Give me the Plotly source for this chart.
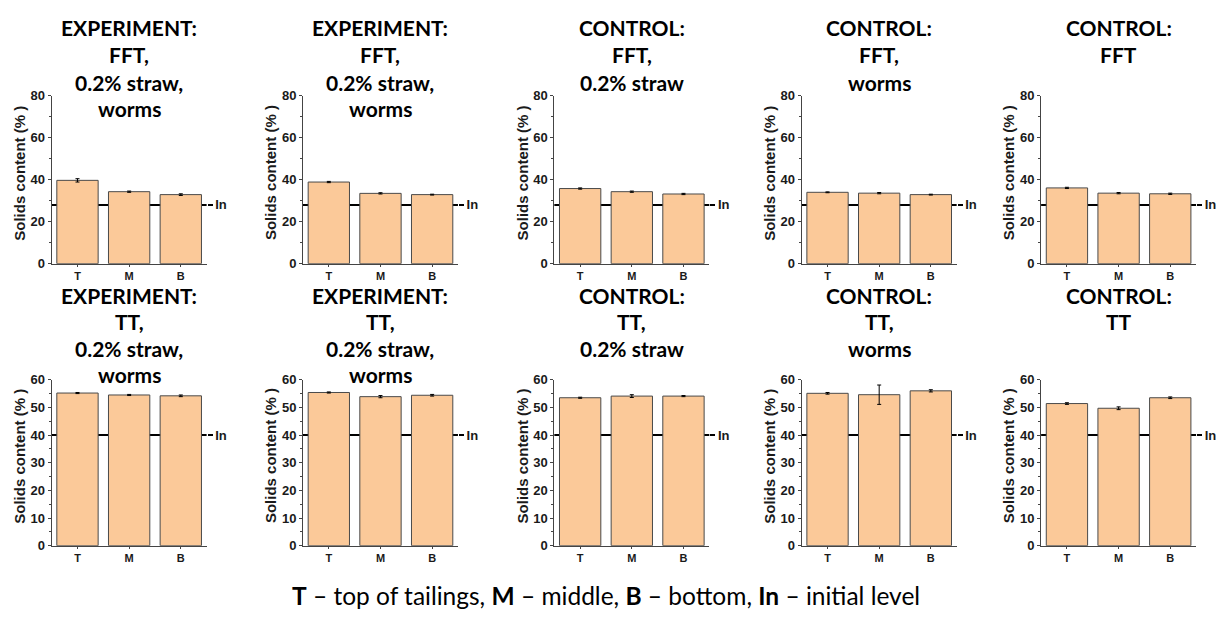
import plotly.graph_objects as go

# --- data -------------------------------------------------------------
positions = ["T", "M", "B"]

top_titles = [
    ["EXPERIMENT:", "FFT,", "0.2% straw,", "worms"],
    ["EXPERIMENT:", "FFT,", "0.2% straw,", "worms"],
    ["CONTROL:", "FFT,", "0.2% straw"],
    ["CONTROL:", "FFT,", "worms"],
    ["CONTROL:", "FFT"],
]
top_values = [
    [39.7, 34.3, 32.9],
    [38.9, 33.5, 32.9],
    [35.8, 34.3, 33.2],
    [34.0, 33.6, 32.9],
    [36.1, 33.6, 33.3],
]
top_errors = [
    [0.8, 0.3, 0.4],
    [0.3, 0.3, 0.2],
    [0.3, 0.3, 0.3],
    [0.2, 0.3, 0.2],
    [0.3, 0.3, 0.3],
]
top_initial = 28
top_range = [0, 80]
top_ticks = [0, 20, 40, 60, 80]

bottom_titles = [
    ["EXPERIMENT:", "TT,", "0.2% straw,", "worms"],
    ["EXPERIMENT:", "TT,", "0.2% straw,", "worms"],
    ["CONTROL:", "TT,", "0.2% straw"],
    ["CONTROL:", "TT,", "worms"],
    ["CONTROL:", "TT"],
]
bottom_values = [
    [55.2, 54.5, 54.2],
    [55.4, 53.9, 54.4],
    [53.5, 54.1, 54.1],
    [55.1, 54.6, 56.0],
    [51.4, 49.7, 53.5],
]
bottom_errors = [
    [0.2, 0.2, 0.3],
    [0.2, 0.4, 0.3],
    [0.2, 0.5, 0.2],
    [0.3, 3.5, 0.4],
    [0.3, 0.5, 0.3],
]
bottom_initial = 40
bottom_range = [0, 60]
bottom_ticks = [0, 10, 20, 30, 40, 50, 60]

y_title = "Solids content (% )"
caption = ("<b>T</b> \u2013 top of tailings, <b>M</b> \u2013 middle, "
           "<b>B</b> \u2013 bottom, <b>In</b> \u2013 initial level")

# --- layout geometry (pixels) ----------------------------------------
W, H = 1216, 621
panel_left = [52, 305, 558, 807, 1048]
panel_width = 156
rows = [
    dict(top=91, bottom=263, title_lines_y=[21, 49, 77, 104],
         values=top_values, errors=top_errors, titles=top_titles,
         initial=top_initial, rng=top_range, ticks=top_ticks, minor=10),
    dict(top=382, bottom=552, title_lines_y=[296, 322, 350, 377],
         values=bottom_values, errors=bottom_errors, titles=bottom_titles,
         initial=bottom_initial, rng=bottom_range, ticks=bottom_ticks, minor=5),
]

BAR_FILL = "#FBC999"
BAR_EDGE = "#4a4a4a"
AXIS_COLOR = "#444444"
TEXT_COLOR = "#1a1a1a"
ARIAL_BOLD = "Liberation Sans"
TITLE_FONT = "Lato"


def suffix(k):
    return "" if k == 1 else str(k)


fig = go.Figure()
layout = dict(
    width=W, height=H,
    margin=dict(l=0, r=0, t=0, b=0),
    paper_bgcolor="white",
    plot_bgcolor="rgba(0,0,0,0)",
    showlegend=False,
    bargap=0.2,
)
annotations = []
shapes = []

n = 0
for row in rows:
    y0 = 1 - row["bottom"] / H
    y1 = 1 - row["top"] / H
    for i in range(5):
        n += 1
        xa = "x" + suffix(n)
        ya = "y" + suffix(n)
        yr = "y" + suffix(n + 10)
        x0 = panel_left[i] / W
        x1 = (panel_left[i] + panel_width) / W

        fig.add_trace(go.Bar(
            x=positions, y=row["values"][i], xaxis=xa, yaxis=ya,
            width=0.8,
            marker=dict(color=BAR_FILL, line=dict(color=BAR_EDGE, width=1)),
            error_y=dict(type="data", array=row["errors"][i], color="black",
                         thickness=1, width=2),
        ))
        # empty trace so the right-hand "In" axis is drawn
        fig.add_trace(go.Scatter(x=[], y=[], xaxis=xa, yaxis=yr,
                                 hoverinfo="skip"))

        layout["xaxis" + suffix(n)] = dict(
            domain=[x0, x1], anchor=ya, type="category",
            categoryorder="array", categoryarray=positions,
            range=[-0.5, 2.5],
            showline=True, linecolor=AXIS_COLOR, linewidth=1,
            ticks="outside", ticklen=2, tickcolor=AXIS_COLOR,
            tickfont=dict(family=ARIAL_BOLD, size=11, color=TEXT_COLOR,
                          weight="bold"),
            showgrid=False, zeroline=False, fixedrange=True,
        )
        layout["yaxis" + suffix(n)] = dict(
            domain=[y0, y1], anchor=xa, range=row["rng"],
            tickvals=row["ticks"],
            showline=True, linecolor=AXIS_COLOR, linewidth=1,
            ticks="outside", ticklen=3, tickcolor=AXIS_COLOR,
            minor=dict(dtick=row["minor"], ticks="outside", ticklen=2,
                       tickcolor=AXIS_COLOR),
            tickfont=dict(family=ARIAL_BOLD, size=13, color=TEXT_COLOR,
                          weight="bold"),
            showgrid=False, zeroline=False, fixedrange=True,
        )
        layout["yaxis" + suffix(n + 10)] = dict(
            overlaying=ya, anchor=xa, side="right", range=row["rng"],
            tickvals=[row["initial"]], ticktext=["In"],
            ticks="outside", ticklen=5, tickwidth=2, tickcolor="black",
            tickfont=dict(family=ARIAL_BOLD, size=13, color=TEXT_COLOR,
                          weight="bold"),
            showline=False, showgrid=False, zeroline=False, fixedrange=True,
        )

        # initial level line behind the bars
        shapes.append(dict(
            type="line", layer="below",
            xref=f"{xa} domain", x0=0, x1=1,
            yref=ya, y0=row["initial"], y1=row["initial"],
            line=dict(color="black", width=2),
        ))

        # panel title, one annotation per line
        xc = (x0 + x1) / 2
        for k, txt in enumerate(row["titles"][i]):
            annotations.append(dict(
                text=f"<b>{txt}</b>", xref="paper", yref="paper",
                x=xc, y=1 - row["title_lines_y"][k] / H,
                xanchor="center", yanchor="middle", showarrow=False,
                borderpad=0,
                font=dict(family=TITLE_FONT, size=21, color="black"),
            ))

        # rotated y-axis title
        annotations.append(dict(
            text=f"<b>{y_title}</b>", xref="paper", yref="paper",
            x=(panel_left[i] - 32) / W,
            y=1 - ((row["top"] + row["bottom"]) / 2 - 7) / H,
            xanchor="center", yanchor="middle", textangle=-90,
            showarrow=False,
            font=dict(family=ARIAL_BOLD, size=15, color=TEXT_COLOR),
        ))

annotations.append(dict(
    text=caption, xref="paper", yref="paper", x=610 / W, y=1 - 603 / H,
    xanchor="center", yanchor="middle", showarrow=False,
    font=dict(family=TITLE_FONT, size=24.5, color="black"),
))

layout["annotations"] = annotations
layout["shapes"] = shapes
fig.update_layout(**layout)

fig.write_html("out.html")
